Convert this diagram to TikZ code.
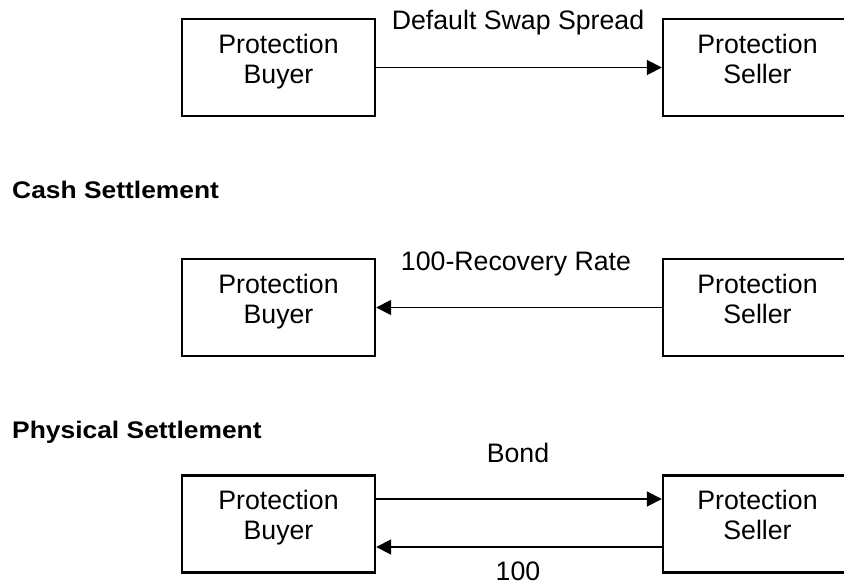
\documentclass[tikz,border=0pt]{standalone}
\usepackage{fontspec}
\setmainfont{Liberation Sans}
\newfontfamily\headfont[FakeStretch=1.1]{Liberation Sans}
\usetikzlibrary{arrows.meta}
\tikzset{
  party/.style={draw, line width=2.4pt, minimum height=97pt, inner sep=0pt},
  buyer/.style={party, minimum width=193pt},
  seller/.style={party, minimum width=189pt},
  ptext/.style={anchor=north, inner sep=0pt, align=center,
    font=\fontsize{26.7}{30}\selectfont},
  flow/.style={line width=1.8pt, -{Triangle[length=15pt,width=15pt]}},
  lbl/.style={anchor=base, inner sep=0pt, font=\fontsize{26.7}{30}\selectfont},
  heading/.style={anchor=base west, inner sep=0pt, font=\headfont\bfseries\fontsize{24}{28}\selectfont}
}
\begin{document}
\begin{tikzpicture}[x=1pt,y=-1pt]
\useasboundingbox (0,0) rectangle (844,584);
\clip (0,0) rectangle (844,584);
% row 1
\node[buyer] (b1) at (278.5,67.5) {};
\node[seller] (s1) at (757.5,67.5) {};
\node[ptext] (tb1) at ([yshift=-16pt]b1.north) {Protection\\Buyer};
\node[ptext] (ts1) at ([yshift=-16pt]s1.north) {Protection\\Seller};
\draw[flow] (b1.east) -- (s1.west);
\node[lbl] (l1) at (518,29) {Default Swap Spread};
% row 2
\node[heading] (h2) at (12,198) {Cash Settlement};
\node[buyer] (b2) at (278.5,307.5) {};
\node[seller] (s2) at (757.5,307.5) {};
\node[ptext] (tb2) at ([yshift=-16pt]b2.north) {Protection\\Buyer};
\node[ptext] (ts2) at ([yshift=-16pt]s2.north) {Protection\\Seller};
\draw[flow] (s2.west) -- (b2.east);
\node[lbl] (l2) at (516,270) {100-Recovery Rate};
% row 3
\node[heading] (h3) at (12,438) {Physical Settlement};
\node[buyer] (b3) at (278.5,524) {};
\node[seller] (s3) at (757.5,524) {};
\node[ptext] (tb3) at ([yshift=-16pt]b3.north) {Protection\\Buyer};
\node[ptext] (ts3) at ([yshift=-16pt]s3.north) {Protection\\Seller};
\draw[flow] ([yshift=25pt]b3.east) -- ([yshift=25pt]s3.west);
\draw[flow] ([yshift=-23pt]s3.west) -- ([yshift=-23pt]b3.east);
\node[lbl] (l3) at (518,462) {Bond};
\node[lbl] (l4) at (518,580) {100};
\end{tikzpicture}
\end{document}
